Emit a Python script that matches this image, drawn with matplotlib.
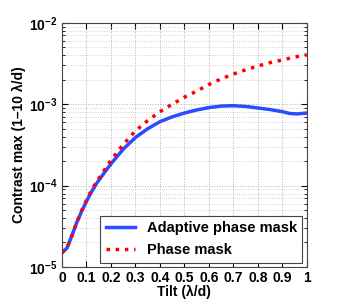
import matplotlib
matplotlib.use('Agg')
import matplotlib.pyplot as plt
from matplotlib.ticker import LogLocator, NullFormatter

tilt = [0, 0.02, 0.04, 0.06, 0.08, 0.1, 0.12, 0.14, 0.17, 0.2, 0.25, 0.3, 0.35,
        0.4, 0.45, 0.5, 0.55, 0.6, 0.65, 0.7, 0.75, 0.8, 0.85, 0.9, 0.93, 0.96, 1.0]
adaptatif = [1.5e-5, 1.7e-5, 2.4e-5, 3.5e-5, 4.8e-5, 6.4e-5, 8.3e-5, 1.05e-4, 1.4e-4,
             1.85e-4, 2.8e-4, 3.9e-4, 5.0e-4, 6.1e-4, 7.0e-4, 7.8e-4, 8.5e-4, 9.1e-4,
             9.5e-4, 9.6e-4, 9.4e-4, 9.0e-4, 8.6e-4, 8.1e-4, 7.7e-4, 7.6e-4, 7.8e-4]

tilt2 = [0, 0.02, 0.04, 0.06, 0.08, 0.1, 0.12, 0.14, 0.17, 0.2, 0.25, 0.3, 0.35,
         0.4, 0.45, 0.5, 0.55, 0.6, 0.65, 0.7, 0.75, 0.8, 0.85, 0.9, 0.95, 1.0]
masque = [1.5e-5, 1.7e-5, 2.4e-5, 3.5e-5, 4.9e-5, 6.6e-5, 8.7e-5, 1.1e-4, 1.5e-4,
          2.05e-4, 3.2e-4, 4.7e-4, 6.3e-4, 8.1e-4, 1.0e-3, 1.22e-3, 1.45e-3, 1.75e-3,
          2.05e-3, 2.35e-3, 2.65e-3, 2.95e-3, 3.25e-3, 3.5e-3, 3.8e-3, 4.05e-3]

xticks = [0, 0.1, 0.2, 0.3, 0.4, 0.5, 0.6, 0.7, 0.8, 0.9, 1]
xticklabels = ['0', '0.1', '0.2', '0.3', '0.4', '0.5', '0.6', '0.7', '0.8', '0.9', '1']

plt.rcParams['font.family'] = ['Liberation Sans', 'DejaVu Sans']
plt.rcParams['font.weight'] = 'bold'
plt.rcParams['font.size'] = 10

fig = plt.figure(figsize=(3.56, 3.01), dpi=100)
ax = fig.add_axes([0.174, 0.113, 0.688, 0.811])

ax.plot(tilt, adaptatif, color='#2a4bff', lw=2.5, label='Adaptive phase mask')
ax.plot(tilt2, masque, color='#ff0000', lw=2.5, ls=':', label='Phase mask')

ax.set_yscale('log')
ax.set_xlim(0, 1)
ax.set_ylim(1e-5, 1e-2)
ax.set_xticks(xticks)
ax.set_xticklabels(xticklabels)
ax.yaxis.set_minor_locator(LogLocator(base=10, subs=range(2, 10)))
ax.yaxis.set_minor_formatter(NullFormatter())

ax.grid(True, which='major', ls=':', color='#b0b0b0', lw=0.7)
ax.grid(True, which='minor', axis='y', ls=':', color='#c8c8c8', lw=0.6)
ax.tick_params(which='both', direction='in', top=True, right=True)
ax.tick_params(which='major', length=4, pad=3)
ax.tick_params(which='minor', length=2)
for s in ax.spines.values():
    s.set_color('#444444')

ax.set_xlabel('Tilt (λ/d)', fontweight='bold', labelpad=0)
ax.set_ylabel('Contrast max (1–10 λ/d)', fontweight='bold', labelpad=2)

leg = ax.legend(loc='lower right', fancybox=False, edgecolor='#444444',
                framealpha=1, borderaxespad=0.3, handlelength=2.0,
                prop={'weight': 'bold', 'size': 10.5})
leg.get_frame().set_linewidth(0.8)

plt.savefig('out.png', dpi=100)
plt.close()
